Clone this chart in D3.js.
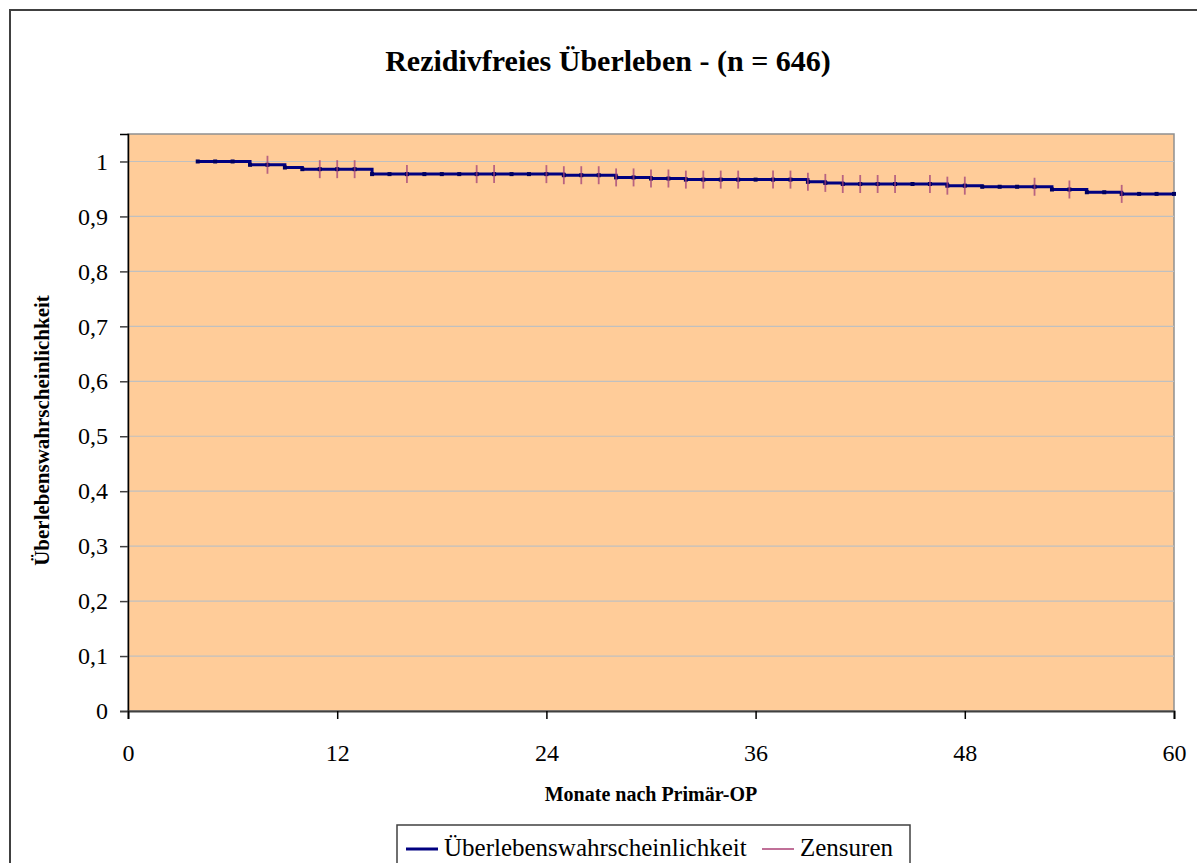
<!DOCTYPE html>
<html>
<head>
<meta charset="utf-8">
<script src="https://cdn.jsdelivr.net/npm/d3@7/dist/d3.min.js"></script>
<style>
  body { margin: 0; background: #fff; }
  svg text { font-family: "Liberation Serif", "Times New Roman", serif; fill: #000; }
</style>
</head>
<body>
<div id="chart"></div>
<script>
// months at which the curve has a point (step after)
var months = [4,5,6,7,8,9,10,11,12,13,14,15,16,17,18,19,20,21,22,23,24,25,26,27,28,29,30,31,32,
  33,34,35,36,37,38,39,40,41,42,43,44,45,46,47,48,49,50,51,52,53,54,55,56,57,58,59,60];
// survival probability at each month
var survival = [1.0,1.0,1.0,0.994,0.994,0.989,0.986,0.986,0.986,0.986,0.977,0.977,0.977,0.977,
  0.977,0.977,0.977,0.977,0.977,0.977,0.977,0.975,0.975,0.975,0.971,0.971,0.969,0.969,0.967,
  0.967,0.967,0.967,0.967,0.967,0.967,0.963,0.961,0.959,0.959,0.959,0.959,0.959,0.959,0.956,
  0.956,0.954,0.954,0.954,0.954,0.949,0.949,0.944,0.944,0.941,0.941,0.941,0.941];
// censored observations (months)
var censored = [8,11,12,13,16,20,21,24,25,26,27,28,29,30,31,32,33,34,35,37,38,39,40,41,42,43,44,
  46,47,48,52,54,57];
var xTicks = [0,12,24,36,48,60];
var yTicks = [0,0.1,0.2,0.3,0.4,0.5,0.6,0.7,0.8,0.9,1];

var W = 1197, H = 863;
var plot = {left: 128, top: 134, right: 1174, bottom: 711};

var svg = d3.select("#chart").append("svg")
  .attr("width", W)
  .attr("height", H);

// outer frame
svg.append("rect")
  .attr("x", 10).attr("y", 10)
  .attr("width", W + 20).attr("height", H + 20)
  .attr("fill", "#fff")
  .attr("stroke", "#404040")
  .attr("stroke-width", 2);

var x = d3.scaleLinear().domain([0, 60]).range([plot.left, plot.right]);
var y = d3.scaleLinear().domain([0, 1.05]).range([plot.bottom, plot.top]);

// plot area
svg.append("rect")
  .attr("x", plot.left).attr("y", plot.top)
  .attr("width", plot.right - plot.left).attr("height", plot.bottom - plot.top)
  .attr("fill", "#ffcc99")
  .attr("stroke", "#909090")
  .attr("stroke-width", 1.5);

// gridlines
svg.append("g")
  .selectAll("line")
  .data(yTicks.filter(function(d) { return d > 0; }))
  .enter().append("line")
  .attr("x1", plot.left).attr("x2", plot.right)
  .attr("y1", function(d) { return y(d); })
  .attr("y2", function(d) { return y(d); })
  .attr("stroke", "#c0c0c0")
  .attr("stroke-width", 1.2);

// axes
var fmt = function(d) { return String(d).replace(".", ","); };

var yAxis = svg.append("g")
  .attr("transform", "translate(" + plot.left + ",0)")
  .call(d3.axisLeft(y).tickValues(yTicks).tickFormat(fmt).tickSize(8).tickPadding(12));
yAxis.select(".domain").attr("stroke", "#000").attr("stroke-width", 1.5);
yAxis.selectAll(".tick line").attr("stroke", "#404040").attr("stroke-width", 1.5);
yAxis.selectAll(".tick text").attr("font-size", "24px").attr("font-family", "Liberation Serif");

var xAxis = svg.append("g")
  .attr("transform", "translate(0," + plot.bottom + ")")
  .call(d3.axisBottom(x).tickValues(xTicks).tickSize(8).tickPadding(25));
xAxis.select(".domain").attr("stroke", "#404040").attr("stroke-width", 2);
xAxis.selectAll(".tick line").attr("stroke", "#000").attr("stroke-width", 1.5);
xAxis.selectAll(".tick text").attr("font-size", "24px").attr("font-family", "Liberation Serif");

// survival curve
var pts = months.map(function(m, i) { return [m, survival[i]]; });
var line = d3.line()
  .x(function(d) { return x(d[0]); })
  .y(function(d) { return y(d[1]); })
  .curve(d3.curveStepAfter);

svg.append("path")
  .datum(pts)
  .attr("d", line)
  .attr("fill", "none")
  .attr("stroke", "#000080")
  .attr("stroke-width", 3);

svg.append("g")
  .selectAll("rect")
  .data(pts)
  .enter().append("rect")
  .attr("x", function(d) { return x(d[0]) - 2; })
  .attr("y", function(d) { return y(d[1]) - 2; })
  .attr("width", 4).attr("height", 4)
  .attr("fill", "#000060");

// censor marks
function survAt(m) {
  var v = survival[0];
  months.forEach(function(mm, i) { if (mm <= m) v = survival[i]; });
  return v;
}
svg.append("g")
  .selectAll("line")
  .data(censored)
  .enter().append("line")
  .attr("x1", function(d) { return x(d); })
  .attr("x2", function(d) { return x(d); })
  .attr("y1", function(d) { return y(survAt(d)) - 9; })
  .attr("y2", function(d) { return y(survAt(d)) + 9; })
  .attr("stroke", "#a0407a")
  .attr("stroke-opacity", 0.75)
  .attr("stroke-width", 1.8);

// titles
svg.append("text")
  .attr("x", 608).attr("y", 71)
  .attr("text-anchor", "middle")
  .attr("font-size", "30px")
  .attr("font-weight", "bold")
  .text("Rezidivfreies Überleben - (n = 646)");

svg.append("text")
  .attr("transform", "translate(49," + ((plot.top + plot.bottom) / 2 + 8) + ") rotate(-90)")
  .attr("text-anchor", "middle")
  .attr("font-size", "21px")
  .attr("font-weight", "bold")
  .text("Überlebenswahrscheinlichkeit");

svg.append("text")
  .attr("x", (plot.left + plot.right) / 2).attr("y", 801)
  .attr("text-anchor", "middle")
  .attr("font-size", "20px")
  .attr("font-weight", "bold")
  .text("Monate nach Primär-OP");

// legend
var lg = svg.append("g");
lg.append("rect")
  .attr("x", 397).attr("y", 825)
  .attr("width", 513).attr("height", 50)
  .attr("fill", "#fff")
  .attr("stroke", "#404040")
  .attr("stroke-width", 1.5);
var items = [
  {label: "Überlebenswahrscheinlichkeit", color: "#000080", w: 3, x: 406},
  {label: "Zensuren", color: "#c07098", w: 2, x: 762}
];
items.forEach(function(it) {
  lg.append("line")
    .attr("x1", it.x).attr("x2", it.x + 32)
    .attr("y1", 849).attr("y2", 849)
    .attr("stroke", it.color)
    .attr("stroke-width", it.w);
  lg.append("text")
    .attr("x", it.x + 38).attr("y", 856)
    .attr("font-size", "25px")
    .text(it.label);
});
</script>
</body>
</html>
